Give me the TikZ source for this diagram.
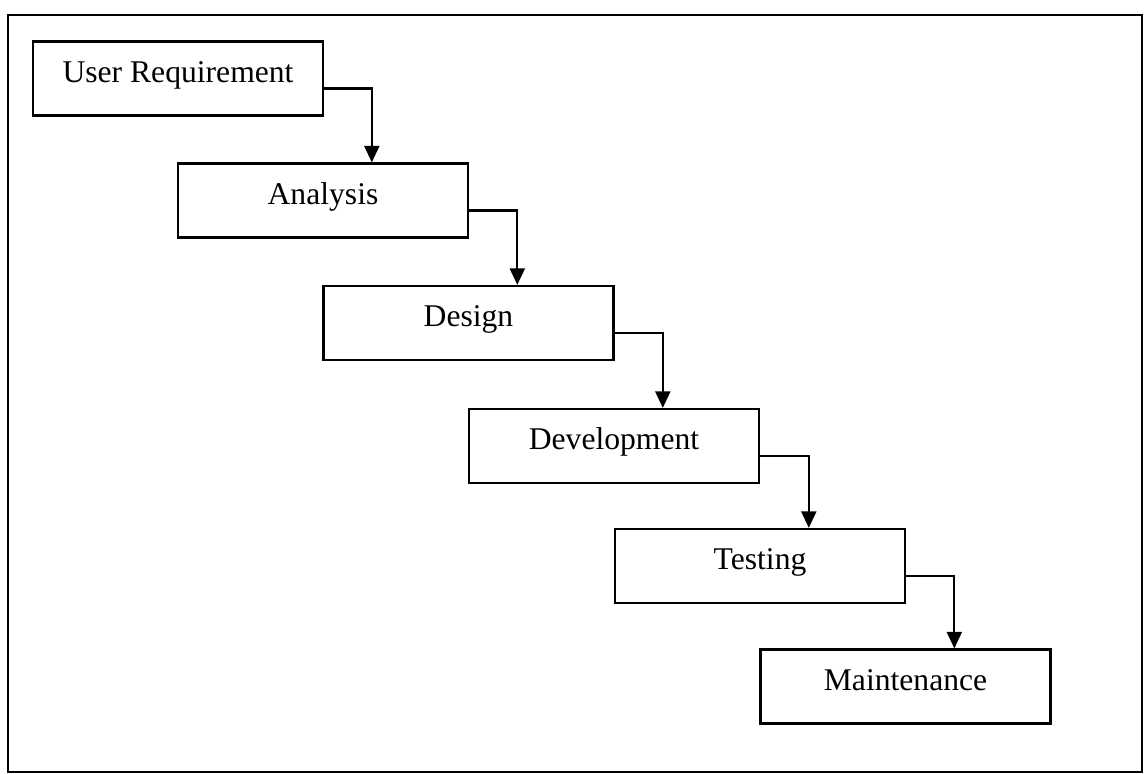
\documentclass[tikz,border=0pt]{standalone}
\usepackage{fontspec}
\setmainfont{Liberation Serif}
\usetikzlibrary{arrows.meta,calc}
\tikzset{
  phase/.style={draw,line width=1.3pt,minimum width=5.8cm,minimum height=1.48cm,
    inner sep=0pt,text height=0.45cm,text depth=0.31cm,
    font=\fontsize{18}{20}\selectfont},
  flow/.style={line width=1.2pt,-{Triangle[length=0.33cm,width=0.3cm]}}
}
\begin{document}
\begin{tikzpicture}[x=0.02cm,y=-0.02cm]
  \useasboundingbox (0,0) rectangle (1146,774);
  \draw[line width=1.3pt] (8,15) rectangle (1142,772);
  % the stages, one step down and right each time
  \node[phase] (req) at (178,78.5) {User Requirement};
  \node[phase] (ana) at (323,200.5) {Analysis};
  \node[phase] (des) at (468.5,323) {Design};
  \node[phase] (dev) at (614,446) {Development};
  \node[phase] (tst) at (760,566) {Testing};
  \node[phase] (mnt) at (905.5,686.5) {Maintenance};
  % links between the stages
  \draw[flow] ([yshift=-0.2cm]req.east) -| ($(ana.north west)!0.667!(ana.north east)$);
  \draw[flow] ([yshift=-0.2cm]ana.east) -| ($(des.north west)!0.667!(des.north east)$);
  \draw[flow] ([yshift=-0.2cm]des.east) -| ($(dev.north west)!0.667!(dev.north east)$);
  \draw[flow] ([yshift=-0.2cm]dev.east) -| ($(tst.north west)!0.667!(tst.north east)$);
  \draw[flow] ([yshift=-0.2cm]tst.east) -| ($(mnt.north west)!0.667!(mnt.north east)$);
\end{tikzpicture}
\end{document}
